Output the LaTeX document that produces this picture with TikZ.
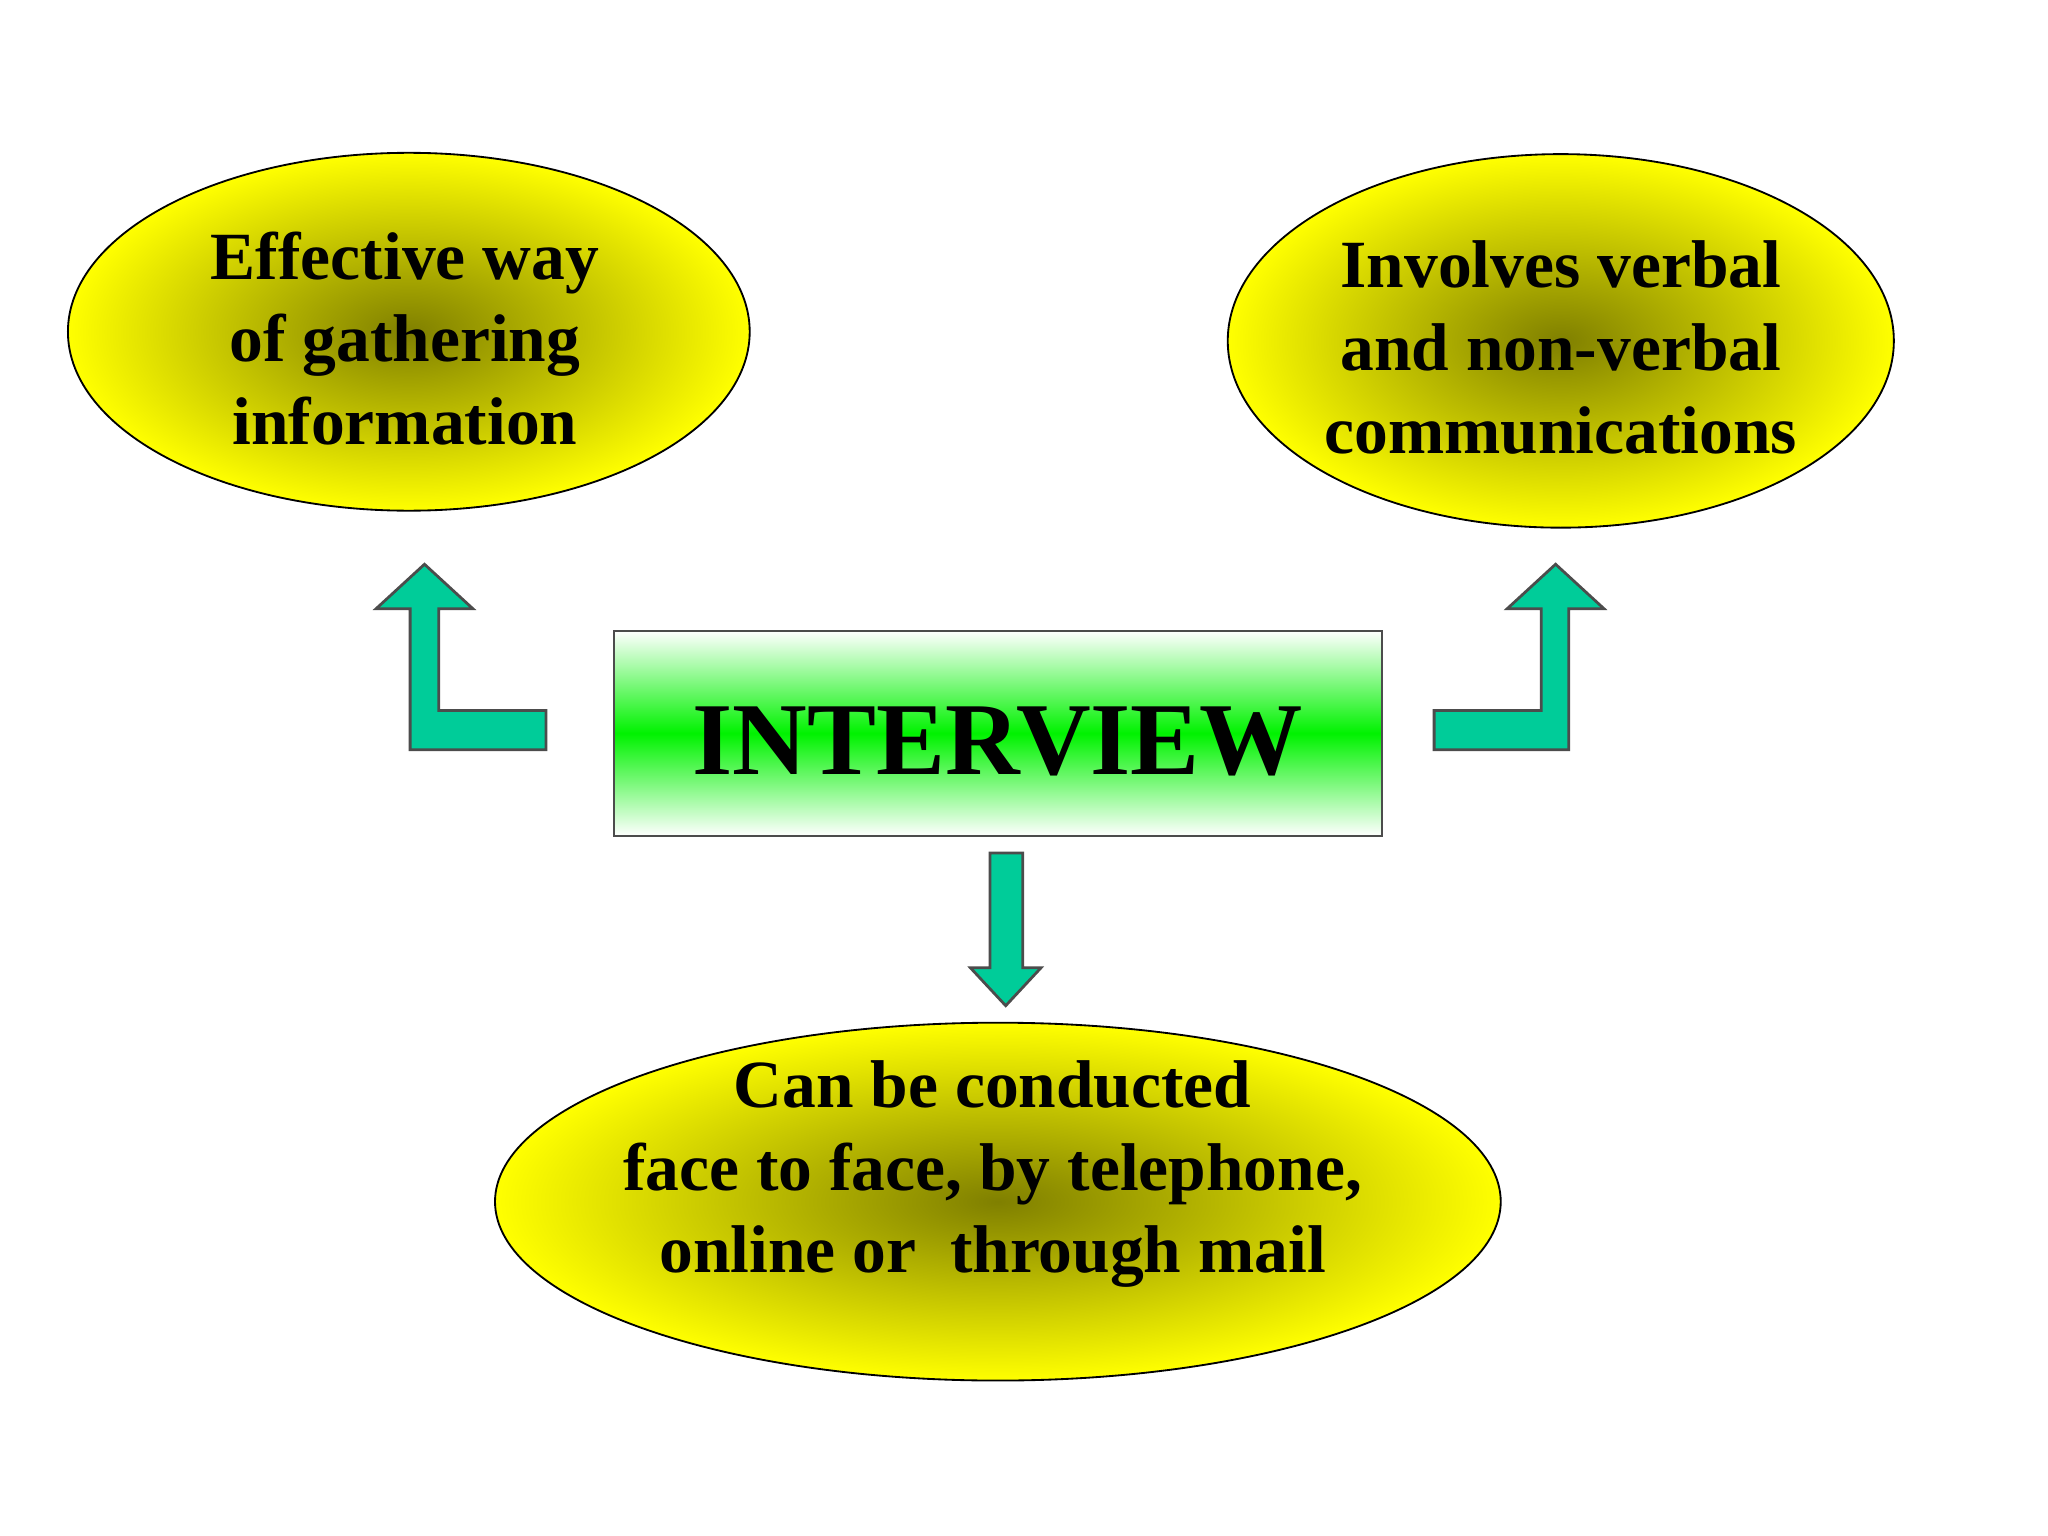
\documentclass[tikz,border=0pt]{standalone}
\usepackage{fontspec}
\setmainfont{Liberation Serif}
\begin{document}
\begin{tikzpicture}[x=0.01cm,y=-0.01cm,
  oval/.style={draw=black,line width=0.4pt,inner color={rgb,1:red,0.5;green,0.5;blue,0},outer color=yellow},
  otext/.style={font=\bfseries\fontsize{14.7}{18}\selectfont,align=center},
  barrow/.style={draw=black!70,fill={rgb,1:red,0;green,0.8;blue,0.6},line width=0.6pt}]
\useasboundingbox (0,0) rectangle (1568,1176);
\fill[white] (0,0) rectangle (1568,1176);
\shade[oval] (313,254) ellipse [x radius=261,y radius=137];
\shade[oval] (1195,261) ellipse [x radius=255,y radius=143];
\shade[oval] (764,920) ellipse [x radius=385,y radius=137];
\node[otext] (l) at (310,259) {Effective way\\of gathering\\ information};
\node[otext] (r) at (1195,266) {Involves verbal\\and non-verbal\\communications};
\node[otext] (b) at (760,899) {Can be conducted\\ face to face, by telephone,\\online or~ through mail};
\shade[draw=black!70,top color=white,bottom color=white,middle color={rgb,1:red,0;green,0.95;blue,0}] (470,483) rectangle (1058,640);
\node[font=\bfseries\fontsize{22.5}{27}\selectfont] (c) at (764,568) {INTERVIEW};
\draw[barrow] (418,544)--(336,544)--(336,466)--(362,466)--(325,432)--(288,466)--(314,466)--(314,574)--(418,574)--cycle;
\draw[barrow] (1098,544)--(1180,544)--(1180,466)--(1154,466)--(1191,432)--(1228,466)--(1201,466)--(1201,574)--(1098,574)--cycle;
\draw[barrow] (758,653)--(783,653)--(783,741)--(797,741)--(770,770)--(743,741)--(758,741)--cycle;
\end{tikzpicture}
\end{document}
